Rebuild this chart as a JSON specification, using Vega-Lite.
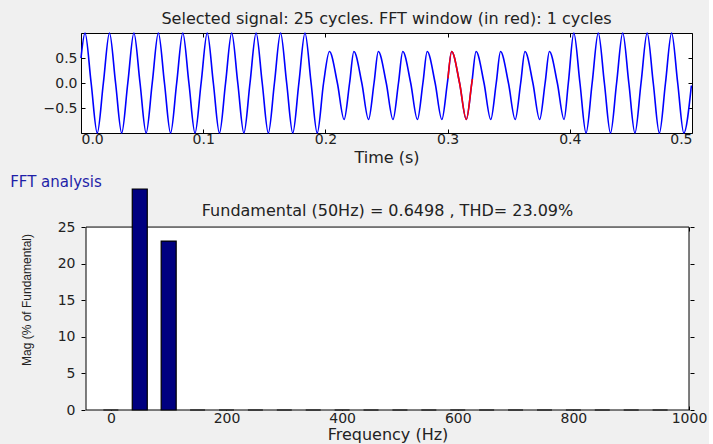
{
  "$schema": "https://vega.github.io/schema/vega-lite/v6.json",
  "background": "#f0f0f0",
  "padding": {"left": 10, "top": 10, "right": 2, "bottom": 2},
  "spacing": 9,
  "config": {
    "font": "DejaVu Sans",
    "title": {"font": "DejaVu Sans", "fontWeight": "normal", "fontSize": 16, "color": "#222222"},
    "axis": {
      "labelFont": "DejaVu Sans", "labelFontSize": 14, "labelColor": "#222222",
      "titleFont": "DejaVu Sans", "titleFontSize": 16, "titleFontWeight": "normal", "titleColor": "#222222",
      "tickColor": "#000000", "tickSize": -4, "domainColor": "#000000", "grid": false
    }
  },
  "datasets": {
    "signal": [
      {"t": 0, "v": 0.5},
      {"t": 0.0033, "v": 1}, {"t": 0.0083, "v": 0}, {"t": 0.0133, "v": -1}, {"t": 0.0183, "v": 0},
      {"t": 0.0233, "v": 1}, {"t": 0.0283, "v": 0}, {"t": 0.0333, "v": -1}, {"t": 0.0383, "v": 0},
      {"t": 0.0433, "v": 1}, {"t": 0.0483, "v": 0}, {"t": 0.0533, "v": -1}, {"t": 0.0583, "v": 0},
      {"t": 0.0633, "v": 1}, {"t": 0.0683, "v": 0}, {"t": 0.0733, "v": -1}, {"t": 0.0783, "v": 0},
      {"t": 0.0833, "v": 1}, {"t": 0.0883, "v": 0}, {"t": 0.0933, "v": -1}, {"t": 0.0983, "v": 0},
      {"t": 0.1033, "v": 1}, {"t": 0.1083, "v": 0}, {"t": 0.1133, "v": -1}, {"t": 0.1183, "v": 0},
      {"t": 0.1233, "v": 1}, {"t": 0.1283, "v": 0}, {"t": 0.1333, "v": -1}, {"t": 0.1383, "v": 0},
      {"t": 0.1433, "v": 1}, {"t": 0.1483, "v": 0}, {"t": 0.1533, "v": -1}, {"t": 0.1583, "v": 0},
      {"t": 0.1633, "v": 1}, {"t": 0.1683, "v": 0}, {"t": 0.1733, "v": -1}, {"t": 0.1783, "v": 0},
      {"t": 0.1833, "v": 1}, {"t": 0.1883, "v": 0}, {"t": 0.1933, "v": -1}, {"t": 0.1985, "v": 0},
      {"t": 0.2033, "v": 0.63}, {"t": 0.2098, "v": 0}, {"t": 0.2153, "v": -0.73}, {"t": 0.2198, "v": 0},
      {"t": 0.2233, "v": 0.63}, {"t": 0.2298, "v": 0}, {"t": 0.2353, "v": -0.73}, {"t": 0.2398, "v": 0},
      {"t": 0.2433, "v": 0.63}, {"t": 0.2498, "v": 0}, {"t": 0.2553, "v": -0.73}, {"t": 0.2598, "v": 0},
      {"t": 0.2633, "v": 0.63}, {"t": 0.2698, "v": 0}, {"t": 0.2753, "v": -0.73}, {"t": 0.2798, "v": 0},
      {"t": 0.2833, "v": 0.63}, {"t": 0.2898, "v": 0}, {"t": 0.2953, "v": -0.73}, {"t": 0.2998, "v": 0},
      {"t": 0.3033, "v": 0.63}, {"t": 0.3098, "v": 0}, {"t": 0.3153, "v": -0.73}, {"t": 0.3198, "v": 0},
      {"t": 0.3233, "v": 0.63}, {"t": 0.3298, "v": 0}, {"t": 0.3353, "v": -0.73}, {"t": 0.3398, "v": 0},
      {"t": 0.3433, "v": 0.63}, {"t": 0.3498, "v": 0}, {"t": 0.3553, "v": -0.73}, {"t": 0.3598, "v": 0},
      {"t": 0.3633, "v": 0.63}, {"t": 0.3698, "v": 0}, {"t": 0.3753, "v": -0.73}, {"t": 0.3798, "v": 0},
      {"t": 0.3833, "v": 0.63}, {"t": 0.3898, "v": 0}, {"t": 0.3953, "v": -0.73}, {"t": 0.3988, "v": 0},
      {"t": 0.4033, "v": 1}, {"t": 0.4083, "v": 0}, {"t": 0.4133, "v": -1}, {"t": 0.4183, "v": 0},
      {"t": 0.4233, "v": 1}, {"t": 0.4283, "v": 0}, {"t": 0.4333, "v": -1}, {"t": 0.4383, "v": 0},
      {"t": 0.4433, "v": 1}, {"t": 0.4483, "v": 0}, {"t": 0.4533, "v": -1}, {"t": 0.4583, "v": 0},
      {"t": 0.4633, "v": 1}, {"t": 0.4683, "v": 0}, {"t": 0.4733, "v": -1}, {"t": 0.4783, "v": 0},
      {"t": 0.4833, "v": 1}, {"t": 0.4883, "v": 0}, {"t": 0.4933, "v": -1}, {"t": 0.4995, "v": -0.05}
    ],
    "window": [
      {"t": 0.3003, "v": 0.09}, {"t": 0.3033, "v": 0.63}, {"t": 0.3098, "v": 0},
      {"t": 0.3153, "v": -0.73}, {"t": 0.3198, "v": 0}, {"t": 0.3203, "v": 0.08}
    ],
    "spectrum": [
      {"f": 0, "mag": 0}, {"f": 50, "mag": 100}, {"f": 100, "mag": 23.09}, {"f": 150, "mag": 0},
      {"f": 200, "mag": 0}, {"f": 250, "mag": 0}, {"f": 300, "mag": 0}, {"f": 350, "mag": 0},
      {"f": 400, "mag": 0}, {"f": 450, "mag": 0}, {"f": 500, "mag": 0}, {"f": 550, "mag": 0},
      {"f": 600, "mag": 0}, {"f": 650, "mag": 0}, {"f": 700, "mag": 0}, {"f": 750, "mag": 0},
      {"f": 800, "mag": 0}, {"f": 850, "mag": 0}, {"f": 900, "mag": 0}, {"f": 950, "mag": 0}
    ]
  },
  "vconcat": [
    {
      "width": 611,
      "height": 100,
      "view": {"fill": "white", "stroke": "black", "strokeWidth": 1},
      "title": {"text": "Selected signal: 25 cycles. FFT window (in red): 1 cycles", "offset": 3},
      "layer": [
        {
          "data": {"name": "signal"},
          "mark": {"type": "line", "interpolate": "monotone", "color": "#0000ff", "strokeWidth": 1.6},
          "encoding": {
            "x": {"field": "t", "type": "quantitative",
                  "scale": {"domain": [0, 0.5], "nice": false, "zero": false},
                  "axis": {"orient": "bottom", "values": [0, 0.1, 0.2, 0.3, 0.4, 0.5], "title": "Time (s)", "domain": false, "labelPadding": 3, "titlePadding": 3}},
            "y": {"field": "v", "type": "quantitative",
                  "scale": {"domain": [-1, 1], "nice": false},
                  "axis": {"orient": "left", "values": [-0.5, 0, 0.5], "title": null, "domain": false, "labelPadding": 8}}
          }
        },
        {
          "data": {"name": "window"},
          "mark": {"type": "line", "interpolate": "monotone", "color": "#ff0000", "strokeWidth": 1.6},
          "encoding": {
            "x": {"field": "t", "type": "quantitative",
                  "axis": {"orient": "top", "values": [0, 0.1, 0.2, 0.3, 0.4, 0.5], "labels": false, "title": null, "domain": false}},
            "y": {"field": "v", "type": "quantitative",
                  "axis": {"orient": "right", "values": [-0.5, 0, 0.5], "labels": false, "title": null, "domain": false}}
          }
        }
      ],
      "resolve": {"axis": {"x": "independent", "y": "independent"}}
    },
    {
      "title": {"text": "FFT analysis", "anchor": "start", "frame": "bounds", "color": "#1f1fa8", "fontSize": 15, "offset": -2, "dx": -10},
      "vconcat": [
        {
          "width": 613,
          "height": 221,
          "view": {"fill": null, "stroke": null},
          "title": {"text": "Fundamental (50Hz) = 0.6498 , THD= 23.09%", "offset": -31, "fontSize": 16},
          "data": {"name": "spectrum"},
          "layer": [
            {
              "data": {"values": [{}]},
              "mark": {"type": "rect", "fill": "white", "stroke": "black", "strokeWidth": 1},
              "encoding": {
                "x": {"datum": -43, "type": "quantitative",
                      "scale": {"domain": [-43, 1000], "nice": false, "zero": false},
                      "axis": {"orient": "bottom", "values": [0, 200, 400, 600, 800, 1000], "format": "d", "title": "Frequency (Hz)", "domain": false, "labelPadding": 5, "titlePadding": 1}},
                "x2": {"datum": 1000},
                "y": {"datum": 0, "type": "quantitative",
                      "scale": {"domain": [0, 30.2], "nice": false, "clamp": true},
                      "axis": {"orient": "left", "values": [0, 5, 10, 15, 20, 25], "title": "Mag (% of Fundamental)", "titleFont": "Liberation Sans", "titleFontSize": 12, "domain": false, "labelPadding": 10, "titlePadding": 24}},
                "y2": {"datum": 25}
              }
            },
            {
              "mark": {"type": "bar", "size": 15, "fill": "#000080", "stroke": "#000000", "strokeWidth": 1.2},
              "encoding": {
                "x": {"field": "f", "type": "quantitative",
                      "axis": {"orient": "top", "offset": -38, "values": [0, 200, 400, 600, 800, 1000], "labels": false, "title": null, "domain": false}},
                "y": {"field": "mag", "type": "quantitative",
                      "axis": {"orient": "right", "values": [0, 5, 10, 15, 20, 25], "labels": false, "title": null, "domain": false}}
              }
            }
          ],
          "resolve": {"axis": {"x": "independent", "y": "independent"}}
        }
      ]
    }
  ]
}
